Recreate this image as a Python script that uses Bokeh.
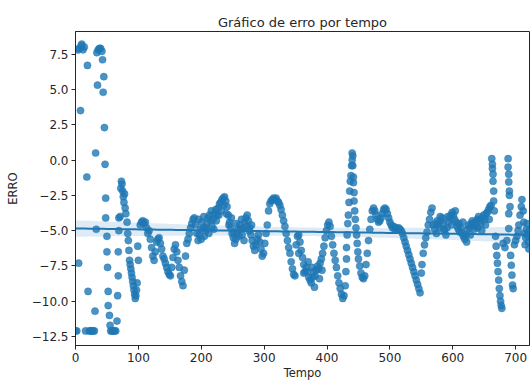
import numpy as np
from bokeh.plotting import figure
from bokeh.models import FixedTicker, Range1d
from bokeh.embed import file_html
from bokeh.resources import INLINE

# ---- data (Tempo, ERRO) ----
tempo_a = [0, 2, 4, 5, 6, 8, 9, 10, 12, 14, 16, 18, 19, 20, 22, 24, 26, 28, 30, 31, 32, 33, 34, 35, 36, 38, 40, 42,
           43, 44, 45, 46, 47, 48, 48, 50, 50, 51, 52, 52, 54, 55, 56, 58, 60, 62, 64, 66, 67, 68, 68, 69, 69]
erro_a = [-12.1, -12.1, 7.8, -7.3, 7.9, 3.5, 8.1, 8.2, 7.8, 8.0, -12.1, -1.2, 6.7, -9.3, -12.1, -12.1, -12.1, -12.1,
          -12.1, -10.7, 0.5, -4.9, 7.6, 5.3, 7.8, 7.9, 7.9, 7.7, 7.1, 4.8, 5.9, 2.3, -0.3, -2.7, -4.1, -5.4, -6.5, -7.6,
          -9.3, -10.3, -11.0, -11.7, -12.1, -12.1, -12.1, -12.1, -12.1, -11.4, -9.6, -8.2, -6.5, -5.0, -4.1]

tempo_b = [71, 72, 73, 74, 75, 76, 77, 78, 79, 80, 82, 83, 84, 85, 86, 87, 88, 89, 90, 91, 92, 93, 94, 95, 96, 97,
           98, 99, 100]
erro_b = [-4.0, -2.0, -1.5, -1.7, -2.2, -2.6, -3.0, -2.4, -3.4, -3.8, -4.4, -5.2, -5.7, -6.4, -7.1, -7.4, -7.7, -8.0,
          -8.3, -8.6, -8.9, -9.2, -9.5, -9.8, -9.6, -9.2, -8.7, -6.1, -7.1]

tempo_c = [103, 105, 107, 109, 111, 113, 115, 117, 119, 121, 123, 125, 127, 129, 131, 133, 135, 137, 139, 141, 143,
           145, 147, 149, 151, 153, 155, 157, 159, 161, 163, 165, 167, 169, 171, 173, 175, 177, 179, 181, 183, 185,
           187, 189]
erro_c = [-4.6, -4.4, -4.3, -4.5, -4.4, -4.8, -5.2, -5.0, -5.6, -6.2, -6.8, -7.1, -6.5, -5.8, -5.6, -5.5, -5.9, -6.3,
          -6.8, -7.0, -7.3, -7.6, -7.9, -8.1, -8.2, -7.6, -6.9, -6.3, -6.0, -6.5, -7.1, -7.6, -8.2, -8.6, -8.9, -7.8,
          -6.8, -5.9, -5.6, -5.2, -4.8, -4.5, -4.2, -4.1]

tempo_d = [191, 193, 195, 197, 199, 201, 203, 205, 207, 209, 211, 213, 215, 217, 219, 221, 223, 225, 227, 229, 231,
           233, 235, 237, 239, 241, 243, 245, 247, 249, 251, 253, 255, 257, 259, 261, 263, 265, 267, 269, 271, 273,
           275, 277, 279, 281, 283, 285, 287, 289, 291, 293, 295, 297, 299,
           196, 200, 204, 208, 212, 216, 220, 224, 228, 232, 236, 240, 244, 248, 252, 256, 260, 264, 268, 272, 276, 280]
erro_d = [-4.6, -5.2, -5.7, -5.3, -4.9, -4.4, -4.8, -5.4, -5.0, -4.5, -4.1, -3.9, -4.3, -4.7, -4.2, -3.8, -3.5, -3.9,
          -3.4, -3.1, -3.0, -2.8, -2.7, -2.6, -2.9, -3.3, -3.9, -4.4, -4.8, -5.2, -5.5, -5.9, -5.6, -5.2, -4.9, -4.6,
          -4.9, -5.3, -4.8, -4.4, -4.1, -3.9, -4.3, -4.8, -5.3, -5.7, -6.1, -6.4, -6.0, -5.6, -5.3, -5.8, -6.3, -6.8,
          -6.6,
          -4.2, -5.6, -4.0, -4.8, -5.2, -3.6, -4.9, -4.3, -3.9, -3.6, -3.2, -3.8, -4.6, -4.1, -5.1, -4.5, -5.4, -4.2,
          -5.7, -4.7, -5.0, -4.6]

tempo_e = [301, 303, 305, 307, 309, 311, 313, 315, 317, 319, 321, 323, 325, 327, 329, 331, 333, 335, 337, 339, 341,
           343, 345, 347, 349, 351, 353, 355, 357, 359, 361, 363, 365, 367, 369, 371, 373, 375, 377, 379, 381, 383,
           385, 387, 389, 391, 393, 395, 397, 399, 401, 403, 405, 407, 409, 411, 413, 415, 417, 419, 421, 423, 425,
           427, 355, 363, 370, 376, 380, 388, 392]
erro_e = [-5.9, -5.2, -4.6, -3.6, -3.1, -2.9, -2.8, -2.7, -2.8, -2.7, -2.9, -3.0, -3.2, -3.5, -3.9, -4.3, -4.7, -5.2,
          -5.7, -6.2, -6.6, -7.2, -7.7, -8.1, -8.2, -6.0, -5.4, -5.3, -5.8, -6.4, -6.9, -7.4, -7.9, -7.6, -7.9, -8.3,
          -8.5, -8.7, -8.3, -7.9, -8.2, -7.8, -7.5, -7.7, -7.3, -7.0, -6.6, -6.1, -5.5, -5.0, -4.6, -4.4, -4.7, -5.4,
          -6.0, -6.6, -7.1, -7.6, -8.2, -8.7, -9.1, -9.5, -9.8, -9.6, -6.6, -8.0, -7.2, -7.6, -9.0, -8.4, -7.8]

tempo_f = [429, 430, 431, 431, 432, 433, 434, 435, 436, 437, 438, 439, 440, 440, 441, 441, 442, 442, 443, 443, 444,
           445, 446, 447, 448, 449, 450, 452, 454, 456, 458, 460, 462, 464, 466, 468, 470, 472, 474, 476, 478, 480,
           482, 484, 486, 488, 490, 492, 494, 496, 498, 500, 502, 504, 506, 508, 510, 512, 514, 516, 518, 520, 522,
           524, 526, 528, 530, 532, 534, 536, 538, 540, 542, 544, 546, 548, 550, 551, 553, 555, 557, 559, 561, 563,
           565, 567]
erro_f = [-8.9, -7.9, -7.0, -6.2, -5.3, -4.5, -3.9, -3.0, -2.2, -1.5, -1.1, -0.4, 0.0, 0.5, 0.3, -0.4, -1.2, -1.6,
          -2.3, -2.9, -3.6, -4.2, -4.8, -5.3, -5.9, -6.5, -7.0, -7.5, -8.0, -8.3, -8.4, -8.2, -7.4, -6.6, -5.7, -4.9,
          -4.2, -3.6, -3.4, -3.6, -3.9, -4.2, -4.4, -4.3, -4.1, -3.8, -3.5, -3.4, -3.5, -3.8, -4.1, -4.4, -4.6, -4.8,
          -4.7, -4.9, -4.8, -4.9, -4.8, -4.9, -5.0, -5.2, -5.5, -5.8, -6.1, -6.4, -6.7, -7.0, -7.3, -7.6, -7.9, -8.2,
          -8.5, -8.8, -9.1, -9.4, -8.0, -7.4, -6.6, -6.0, -5.5, -5.1, -4.6, -4.2, -3.7, -3.4]

tempo_g = [569, 571, 573, 575, 577, 579, 581, 583, 585, 587, 589, 591, 593, 595, 597, 599, 601, 603, 605, 607, 609,
           611, 613, 615, 617, 619, 621, 623, 625, 627, 629, 631, 633, 635, 637, 639, 641, 643, 645, 647, 649, 651,
           653, 655, 657, 659, 661,
           574, 580, 586, 592, 598, 604, 610, 616, 622, 628, 634, 640, 646, 652, 658]
erro_g = [-4.6, -4.9, -4.5, -4.3, -4.6, -4.8, -4.3, -4.1, -4.5, -4.9, -5.3, -4.8, -4.4, -4.1, -3.9, -3.7, -3.9, -4.2,
          -4.4, -4.7, -4.9, -5.1, -4.8, -5.2, -5.4, -5.6, -5.3, -4.9, -4.6, -4.8, -4.5, -4.3, -4.6, -4.4, -4.7, -4.2,
          -4.0, -4.3, -4.5, -4.1, -3.9, -4.2, -3.8, -3.7, -3.5, -3.3, -3.2,
          -5.2, -4.0, -5.0, -4.0, -4.6, -3.6, -4.5, -4.4, -5.8, -5.3, -4.9, -4.8, -5.0, -4.6, -4.2]

tempo_h = [662, 663, 663, 664, 664, 665, 665, 666, 668, 669, 670, 671, 672, 673, 674, 675, 676, 677, 678,
           680, 683, 686, 688, 688, 689, 689, 690, 690, 691, 689, 689, 692, 693, 694, 695, 696,
           698, 700, 702, 704, 705, 707, 709, 710, 712, 713, 714, 715, 716, 717, 718, 719, 720, 721, 722]
erro_h = [0.1, -0.3, -0.6, -1.0, -1.5, -2.2, -2.9, -3.6, -5.4, -6.1, -6.75, -7.3, -7.9, -8.5, -9.1, -9.6, -10.0,
          -10.3, -10.5,
          -5.9, -6.2, -5.7, 0.1, -0.5, -1.0, -1.55, -2.2, -2.5, -3.3, -3.8, -4.85, -6.75, -7.45, -8.15, -8.85, -9.1,
          -6.0, -5.7, -5.4, -5.0, -4.6, -3.9, -3.3, -2.8, -3.6, -4.4, -5.2, -6.0, -5.5, -4.9, -4.5, -5.3, -5.8, -6.3,
          -5.0]

x_ticks = [0, 100, 200, 300, 400, 500, 600, 700]
y_ticks = [-12.5, -10.0, -7.5, -5.0, -2.5, 0.0, 2.5, 5.0, 7.5]

tempo = np.array(tempo_a + tempo_b + tempo_c + tempo_d + tempo_e + tempo_f + tempo_g + tempo_h, dtype=float)
erro = np.array(erro_a + erro_b + erro_c + erro_d + erro_e + erro_f + erro_g + erro_h, dtype=float)

# ---- linear regression with 95% confidence band ----
n = len(tempo)
slope, intercept = np.polyfit(tempo, erro, 1)
resid = erro - (slope * tempo + intercept)
s = np.sqrt(np.sum(resid ** 2) / (n - 2))
xm = tempo.mean()
sxx = np.sum((tempo - xm) ** 2)
xg = np.linspace(tempo.min(), tempo.max(), 100)
yg = slope * xg + intercept
se = s * np.sqrt(1.0 / n + (xg - xm) ** 2 / sxx)
lower = yg - 1.96 * se
upper = yg + 1.96 * se

BLUE = "#1f77b4"
FONT = "DejaVu Sans"
INK = "#262626"

p = figure(width=530, height=382, output_backend="svg", toolbar_location=None,
           x_range=Range1d(0, 722), y_range=Range1d(-13.13, 9.1),
           min_border_left=75, min_border_right=1, min_border_top=31, min_border_bottom=34)

p.title.text = "Gráfico de erro por tempo"
p.title.align = "center"
p.title.text_font = FONT
p.title.text_font_size = "13px"
p.title.text_font_style = "normal"
p.title.text_color = INK
p.title.standoff = 4

p.scatter(x=tempo, y=erro, size=7.2, fill_color=BLUE, fill_alpha=0.8,
          line_color=BLUE, line_alpha=0.8, line_width=0.5)

p.varea(x=xg, y1=lower, y2=upper, fill_color=BLUE, fill_alpha=0.15)
p.line(x=xg, y=yg, line_color=BLUE, line_width=2)

p.xgrid.visible = False
p.ygrid.visible = False
p.outline_line_color = INK
p.outline_line_width = 1
p.background_fill_color = "white"
p.border_fill_color = "white"

for ax in (p.xaxis[0], p.yaxis[0]):
    ax.axis_line_color = INK
    ax.major_tick_line_color = INK
    ax.major_tick_out = 4
    ax.major_tick_in = 0
    ax.minor_tick_line_color = None
    ax.major_label_text_font = FONT
    ax.major_label_text_font_size = "12px"
    ax.major_label_text_color = INK
    ax.axis_label_text_font = FONT
    ax.axis_label_text_font_size = "11.5px"
    ax.axis_label_text_font_style = "normal"
    ax.axis_label_text_color = INK
    ax.major_label_standoff = 3

p.xaxis[0].ticker = FixedTicker(ticks=x_ticks)
p.yaxis[0].ticker = FixedTicker(ticks=y_ticks)
p.yaxis[0].major_label_overrides = {t: ("%.1f" % t).replace("-", "\u2212") for t in y_ticks}
p.xaxis[0].axis_label = "Tempo"
p.yaxis[0].axis_label = "ERRO"
p.xaxis[0].axis_label_standoff = 1
p.yaxis[0].axis_label_standoff = 9

open("out.html", "w").write(file_html(p, INLINE))
